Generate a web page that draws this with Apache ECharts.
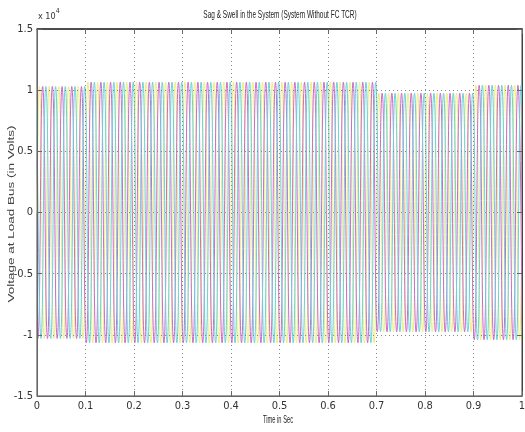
<!DOCTYPE html>
<html>
<head>
<meta charset="utf-8">
<script src="https://cdn.jsdelivr.net/npm/echarts@6/dist/echarts.min.js"></script>
<style>
html,body{margin:0;padding:0;background:#fff;}
#chart{width:525px;height:432px;}
</style>
</head>
<body>
<div id="chart"></div>
<script>
// ---- data ----
const chartTitle = 'Sag & Swell in the System (System Without FC TCR)';
const xAxisTitle = 'Time in Sec';
const yAxisTitle = 'Voltage at Load Bus (in Volts)';
const xTicks = [0, 0.1, 0.2, 0.3, 0.4, 0.5, 0.6, 0.7, 0.8, 0.9, 1];
const yTicks = [-15000, -10000, -5000, 0, 5000, 10000, 15000];
const phaseNames = ['Phase A', 'Phase B', 'Phase C'];
const phaseColors = ['#eeee80', '#cc6acc', '#6ad2da'];
const supplyFrequencyHz = 50;
const phaseShiftDeg = [0, 120, 240];
// peak voltage of each 20 ms cycle (volts), read from the envelope
const cycleAmplitude = [
  10300, 10300, 10300, 10300, 10300,
  10650, 10650, 10650, 10650, 10650, 10650, 10650, 10650, 10650, 10650,
  10650, 10650, 10650, 10650, 10650, 10650, 10650, 10650, 10650, 10650,
  10650, 10650, 10650, 10650, 10650, 10650, 10650, 10650, 10650, 10650,
  9750, 9750, 9750, 9750, 9750, 9750, 9750, 9750, 9750, 9750,
  10400, 10400, 10400, 10400, 10400
];
const phaseStartVolts = [0, -8920, 8920];
const phaseEndVolts = [0, -9010, 9010];

// ---- build series from extrema (peaks / troughs) ----
function phasePoints(p) {
  const pts = [[0, phaseStartVolts[p]]];
  const degPerSec = 360 * supplyFrequencyHz;
  for (let k = -4; k < 200; k++) {
    const t = (90 + phaseShiftDeg[p] + 180 * k) / degPerSec;
    if (t <= 0 || t >= 1) continue;
    const cyc = Math.min(cycleAmplitude.length - 1, Math.floor(t * supplyFrequencyHz));
    const sign = (((k % 2) + 2) % 2 === 0) ? 1 : -1;
    pts.push([t, sign * cycleAmplitude[cyc]]);
  }
  pts.push([1, phaseEndVolts[p]]);
  return pts;
}

const font = "'Liberation Sans Narrow','DejaVu Sans Condensed','Liberation Sans',sans-serif";
const plainFont = "'Liberation Sans',Arial,sans-serif";
const chart = echarts.init(document.getElementById('chart'), null, {renderer: 'canvas'});

const series = phaseNames.map((n, i) => ({
  name: n,
  type: 'line',
  data: phasePoints(i),
  smooth: 0.55,
  showSymbol: false,
  symbol: 'none',
  lineStyle: {color: phaseColors[i], width: 1},
  animation: false,
  z: 2
}));

chart.setOption({
  animation: false,
  backgroundColor: '#fff',
  grid: {left: 37, right: 3, top: 29, bottom: 36, containLabel: false, outerBoundsMode: 'none',
    show: true, borderColor: '#444', borderWidth: 1, backgroundColor: '#fff'},
  graphic: [{
    type: 'text', x: 280, y: 15, scaleX: 0.59,
    style: {text: chartTitle, font: '11px ' + plainFont, fill: '#222', align: 'center', verticalAlign: 'middle'}
  }, {
    type: 'text', x: 278, y: 420, scaleX: 0.52,
    style: {text: xAxisTitle, font: '11px ' + plainFont, fill: '#222', align: 'center', verticalAlign: 'middle'}
  }, {
    type: 'text', x: 12, y: 214, rotation: Math.PI / 2, scaleX: 1.5,
    style: {text: yAxisTitle, font: '9px ' + plainFont, fill: '#444', align: 'center', verticalAlign: 'middle'}
  }, {
    type: 'text', x: 38, y: 8,
    style: {
      text: '{b|x 10}{s|4}',
      rich: {
        b: {fontFamily: font, fontSize: 9, fill: '#333', verticalAlign: 'bottom'},
        s: {fontFamily: font, fontSize: 7, fill: '#333', verticalAlign: 'top', padding: [0, 0, 6, 0]}
      }
    }
  }],
  xAxis: [{
    type: 'value', min: 0, max: 1, interval: 0.1, z: 5,
    axisLine: {show: true, onZero: false, lineStyle: {color: '#666'}},
    axisTick: {show: true, inside: true, length: 5, lineStyle: {color: '#666'}},
    axisLabel: {fontFamily: font, fontSize: 11, color: '#333', margin: 5,
      formatter: v => xTicks.find(t => Math.abs(t - v) < 1e-9) !== undefined ? String(Math.round(v * 10) / 10) : ''},
    splitLine: {show: true, lineStyle: {color: '#888', type: [1, 3], width: 1}}
  }, {
    type: 'value', position: 'top', min: 0, max: 1, interval: 0.1, z: 5,
    axisLine: {show: true, onZero: false, lineStyle: {color: '#333', width: 1.5}},
    axisTick: {show: true, inside: true, length: 5, lineStyle: {color: '#666'}},
    axisLabel: {show: false}, splitLine: {show: false}
  }],
  yAxis: [{
    type: 'value', min: -15000, max: 15000, interval: 5000, z: 5,
    axisLine: {show: true, onZero: false, lineStyle: {color: '#666'}},
    axisTick: {show: true, inside: true, length: 5, lineStyle: {color: '#666'}},
    axisLabel: {fontFamily: font, fontSize: 11, color: '#333', margin: 4,
      formatter: v => yTicks.indexOf(v) >= 0 ? String(v / 10000) : ''},
    splitLine: {show: true, lineStyle: {color: '#888', type: [1, 3], width: 1}}
  }, {
    type: 'value', position: 'right', min: -15000, max: 15000, interval: 5000, z: 5,
    axisLine: {show: true, onZero: false, lineStyle: {color: '#444'}},
    axisTick: {show: true, inside: true, length: 5, lineStyle: {color: '#666'}},
    axisLabel: {show: false}, splitLine: {show: false}
  }],
  series: series
});
</script>
</body>
</html>
